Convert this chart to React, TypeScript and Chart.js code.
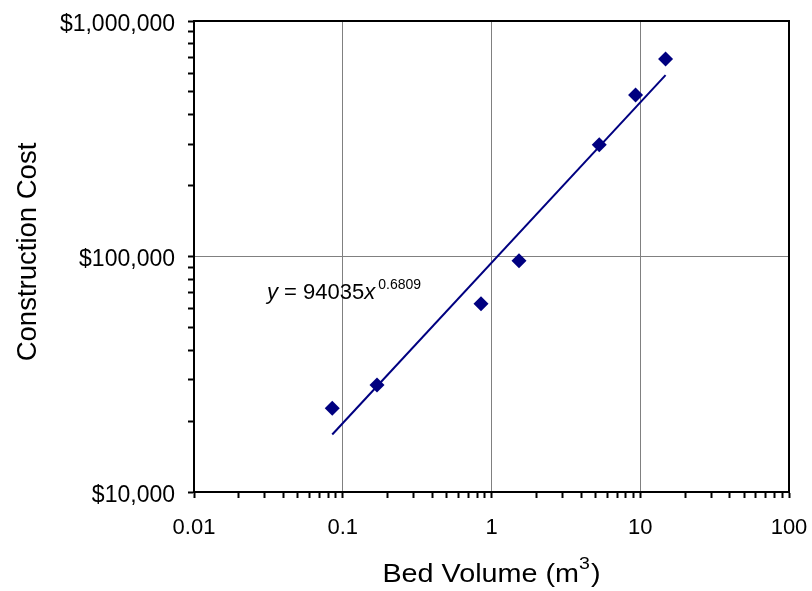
import React, { useEffect, useRef } from 'react';
import { Chart, registerables } from 'chart.js';

Chart.register(...registerables);

// ---- data ----
const bedVolume = [0.085, 0.17, 0.85, 1.53, 5.3, 9.3, 14.8];
const constructionCost = [22700, 28500, 63000, 96000, 298000, 485000, 690000];
// power-law fit shown on the chart: y = a * x^b
const fitA = 94035;
const fitB = 0.6809;
const equationCoef = '94035';
const equationExp = '0.6809';

const xMajorTicks = [0.01, 0.1, 1, 10, 100];
const xTickLabels = ['0.01', '0.1', '1', '10', '100'];
const yMajorTicks = [10000, 100000, 1000000];
const yTickLabels = ['$10,000', '$100,000', '$1,000,000'];

const xAxisTitle = 'Bed Volume (m';
const xAxisTitleSup = '3';
const xAxisTitleEnd = ')';
const yAxisTitle = 'Construction Cost';

const FONT = "'Liberation Sans', Arial, Helvetica, sans-serif";
const NAVY = '#000080';

type T = { value: number; major: boolean };

function withMinorTicks(majors: number[]): T[] {
  const out: T[] = [];
  majors.forEach((m, i) => {
    out.push({ value: m, major: true });
    if (i < majors.length - 1) {
      for (let k = 2; k <= 9; k++) out.push({ value: +(m * k).toPrecision(8), major: false });
    }
  });
  return out;
}

function findLabel(majors: number[], labels: string[], value: number) {
  const i = majors.findIndex((m) => Math.abs(Math.log10(m) - Math.log10(value)) < 1e-6);
  return i >= 0 ? labels[i] : '';
}

const decorPlugin = {
  id: 'decor',
  afterDraw(chart: any) {
    const { ctx, chartArea: a } = chart;
    ctx.save();
    // plot frame
    ctx.strokeStyle = '#000';
    ctx.lineWidth = 2;
    ctx.strokeRect(a.left, a.top, a.right - a.left, a.bottom - a.top);

    ctx.fillStyle = '#000';
    ctx.textBaseline = 'alphabetic';
    ctx.textAlign = 'left';

    // trend equation
    let ex = a.left + 73;
    const ey = a.top + 278;
    ctx.font = `italic 22px ${FONT}`;
    ctx.fillText('y', ex, ey);
    ex += ctx.measureText('y').width;
    ctx.font = `22px ${FONT}`;
    const mid = ' = ' + equationCoef;
    ctx.fillText(mid, ex, ey);
    ex += ctx.measureText(mid).width;
    ctx.font = `italic 22px ${FONT}`;
    ctx.fillText('x', ex, ey);
    ex += ctx.measureText('x').width + 3;
    ctx.font = `14px ${FONT}`;
    ctx.fillText(equationExp, ex, ey - 10);

    // x axis title (with superscript)
    ctx.font = `25px ${FONT}`;
    const w1 = ctx.measureText(xAxisTitle).width;
    const w3 = ctx.measureText(xAxisTitleEnd).width;
    ctx.font = `17px ${FONT}`;
    const w2 = ctx.measureText(xAxisTitleSup).width;
    const total = w1 + w2 + w3 + 1;
    const sx = 1.15;
    const cx = (a.left + a.right) / 2;
    const by = chart.height - 9;
    ctx.save();
    ctx.translate(cx, by);
    ctx.scale(sx, 1);
    let tx = -total / 2;
    ctx.font = `25px ${FONT}`;
    ctx.fillText(xAxisTitle, tx, 0);
    tx += w1;
    ctx.font = `17px ${FONT}`;
    ctx.fillText(xAxisTitleSup, tx, -13);
    tx += w2 + 1;
    ctx.font = `25px ${FONT}`;
    ctx.fillText(xAxisTitleEnd, tx, 0);
    ctx.restore();

    // y axis title
    ctx.save();
    ctx.translate(28, 252);
    ctx.rotate(-Math.PI / 2);
    ctx.textAlign = 'center';
    ctx.textBaseline = 'middle';
    ctx.font = `27.5px ${FONT}`;
    ctx.fillText(yAxisTitle, 0, 0);
    ctx.restore();

    ctx.restore();
  },
};

export default function App() {
  const ref = useRef<HTMLCanvasElement>(null);

  useEffect(() => {
    if (!ref.current) return;
    const points = bedVolume.map((x, i) => ({ x, y: constructionCost[i] }));
    const xMin = Math.min(...bedVolume);
    const xMax = Math.max(...bedVolume);
    const trend = [xMin, xMax].map((x) => ({ x, y: fitA * Math.pow(x, fitB) }));

    const gridColor = (c: any) => (c.tick && c.tick.major ? '#808080' : 'rgba(0,0,0,0)');

    const chart = new Chart(ref.current, {
      type: 'scatter',
      data: {
        datasets: [
          {
            label: 'Trend',
            data: trend,
            showLine: true,
            borderColor: NAVY,
            borderWidth: 2,
            pointRadius: 0,
            fill: false,
          },
          {
            label: 'Construction Cost',
            data: points,
            pointStyle: 'rectRot',
            pointRadius: 7.5,
            pointBackgroundColor: NAVY,
            pointBorderColor: NAVY,
            pointBorderWidth: 0,
            showLine: false,
          },
        ],
      },
      options: {
        responsive: false,
        animation: false,
        layout: { padding: { left: 0, top: 21, right: 23, bottom: 0 } },
        plugins: {
          legend: { display: false },
          tooltip: { enabled: false },
        },
        scales: {
          x: {
            type: 'logarithmic',
            min: 0.01,
            max: 100,
            afterBuildTicks: (s: any) => {
              s.ticks = withMinorTicks(xMajorTicks);
            },
            afterFit: (s: any) => {
              s.height = 99;
              s.paddingLeft = 0;
              s.paddingRight = 0;
            },
            ticks: {
              autoSkip: false,
              maxRotation: 0,
              minRotation: 0,
              padding: 17,
              color: '#000',
              font: { family: FONT, size: 22 },
              callback: ((v: number) => findLabel(xMajorTicks, xTickLabels, v)) as any,
            },
            grid: {
              color: gridColor,
              lineWidth: 1,
              drawTicks: true,
              tickLength: 6,
              tickColor: '#000',
              tickWidth: 2,
            },
            border: { display: true, color: '#000', width: 2 },
          },
          y: {
            type: 'logarithmic',
            min: 10000,
            max: 1000000,
            afterBuildTicks: (s: any) => {
              s.ticks = withMinorTicks(yMajorTicks);
            },
            afterFit: (s: any) => {
              s.width = 194;
              s.paddingTop = 0;
              s.paddingBottom = 0;
            },
            ticks: {
              autoSkip: false,
              padding: 13,
              color: '#000',
              // two-line label (empty first line) nudges the text a few px below the tick
              font: { family: FONT, size: 23, lineHeight: '7px' },
              callback: ((v: number) => {
                const l = findLabel(yMajorTicks, yTickLabels, v);
                return l ? ['', l] : '';
              }) as any,
            },
            grid: {
              color: gridColor,
              lineWidth: 1,
              drawTicks: true,
              tickLength: 6,
              tickColor: '#000',
              tickWidth: 2,
            },
            border: { display: true, color: '#000', width: 2 },
          },
        },
      },
      plugins: [decorPlugin],
    });
    return () => chart.destroy();
  }, []);

  return (
    <div style={{ position: 'absolute', left: 0, top: 0, width: 812, height: 591, background: '#fff' }}>
      <canvas ref={ref} width={812} height={591} style={{ display: 'block' }} />
    </div>
  );
}
